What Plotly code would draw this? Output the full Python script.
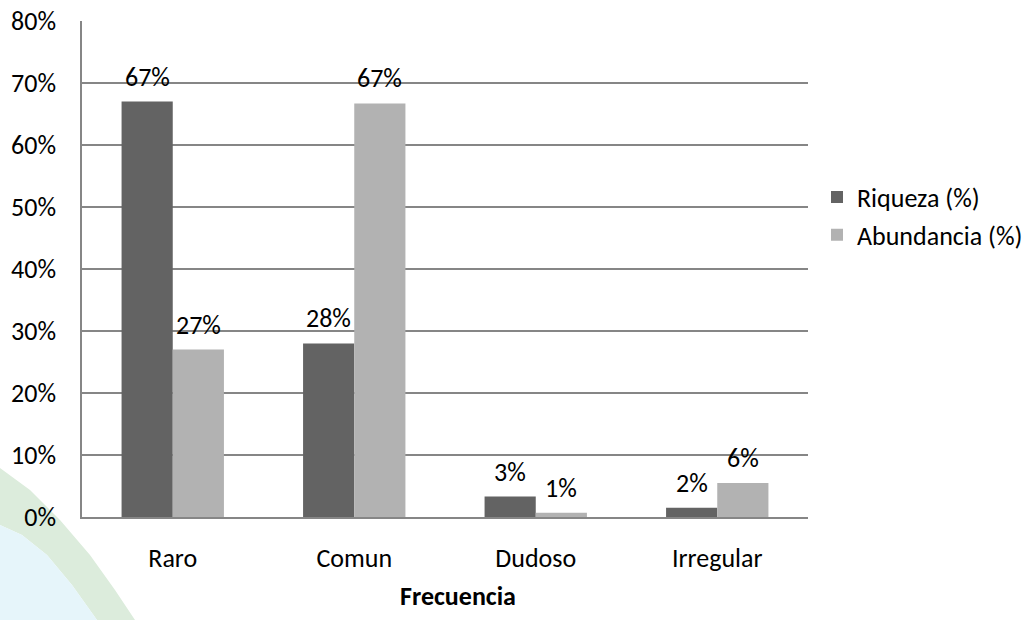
import plotly.graph_objects as go

categories = ["Raro", "Comun", "Dudoso", "Irregular"]
riqueza = [67.0, 28.0, 3.3, 1.5]
abundancia = [27.0, 66.7, 0.7, 5.5]
riqueza_labels = ["67%", "28%", "3%", "2%"]
abundancia_labels = ["27%", "67%", "1%", "6%"]
y_ticks = [0, 10, 20, 30, 40, 50, 60, 70, 80]
y_tick_labels = ["0%", "10%", "20%", "30%", "40%", "50%", "60%", "70%", "80%"]
x_title = "Frecuencia"

FONT = "Carlito, 'Open Sans', Lato, sans-serif"
FS = 26
W, H = 1029, 620
L, R, T, B = 82, 221, 21, 103
PW, PH = W - L - R, H - T - B
BARGAP = 0.436
BAR_W = PW / len(categories) * (1 - BARGAP) / 2

def px(x, y):
    return ((x - L) / PW, (H - B - y) / PH)

def path(points):
    pts = [px(x, y) for x, y in points]
    s = "M %f %f" % pts[0]
    for p in pts[1:]:
        s += " L %f %f" % p
    return s + " Z"

green = [(0, 468), (30, 490), (60, 520), (90, 555), (115, 590), (135, 620), (97, 620),
         (72, 585), (47, 555), (22, 535), (0, 525)]
blue = [(0, 525), (22, 535), (47, 555), (72, 585), (97, 620), (0, 620)]

fig = go.Figure()
fig.add_trace(go.Bar(
    x=categories, y=riqueza, name="Riqueza (%)",
    marker=dict(color="#636363", line=dict(width=0)), legendgroup="a"))
fig.add_trace(go.Bar(
    x=categories, y=abundancia, name="Abundancia (%)",
    marker=dict(color="#b2b2b2", line=dict(width=0)), legendgroup="b"))

annotations = []
for cat, v, t in zip(categories, riqueza, riqueza_labels):
    annotations.append(dict(x=cat, y=v, text=t, showarrow=False, xref="x", yref="y",
                            xshift=-BAR_W / 2, yshift=7, yanchor="bottom",
                            font=dict(family=FONT, size=FS, color="#000000")))
for cat, v, t in zip(categories, abundancia, abundancia_labels):
    annotations.append(dict(x=cat, y=v, text=t, showarrow=False, xref="x", yref="y",
                            xshift=BAR_W / 2, yshift=7, yanchor="bottom",
                            font=dict(family=FONT, size=FS, color="#000000")))
tx, ty = px(458, 596)
annotations.append(dict(x=tx, y=ty, xref="paper", yref="paper", text="<b>%s</b>" % x_title,
                        showarrow=False, xanchor="center", yanchor="middle",
                        font=dict(family=FONT, size=FS, color="#000000")))

fig.update_layout(
    width=W, height=H,
    margin=dict(l=L, r=R, t=T, b=B, autoexpand=False),
    paper_bgcolor="white", plot_bgcolor="rgba(0,0,0,0)",
    barmode="group", bargap=BARGAP, bargroupgap=0,
    font=dict(family=FONT, size=FS, color="#000000"),
    showlegend=True,
    legend=dict(x=(817 - L) / PW, y=px(0, 216)[1], xanchor="left", yanchor="middle",
                font=dict(family=FONT, size=FS), tracegroupgap=1,
                bgcolor="rgba(0,0,0,0)"),
    xaxis=dict(showline=True, linecolor="#868686", linewidth=1.5, ticks="",
               tickfont=dict(family=FONT, size=FS), ticklabelstandoff=17),
    yaxis=dict(range=[0, 80], tickvals=y_ticks, ticktext=y_tick_labels,
               showgrid=True, gridcolor="#868686", gridwidth=1.5,
               showline=True, linecolor="#868686", linewidth=1.5, ticks="",
               zeroline=False, tickfont=dict(family=FONT, size=FS), ticklabelstandoff=19),
    annotations=annotations,
    shapes=[
        dict(type="path", xref="paper", yref="paper", path=path(green),
             fillcolor="#dcecdc", line=dict(width=0), layer="below"),
        dict(type="path", xref="paper", yref="paper", path=path(blue),
             fillcolor="#e6f5fa", line=dict(width=0), layer="below"),
    ],
)

fig.write_html("out.html")
